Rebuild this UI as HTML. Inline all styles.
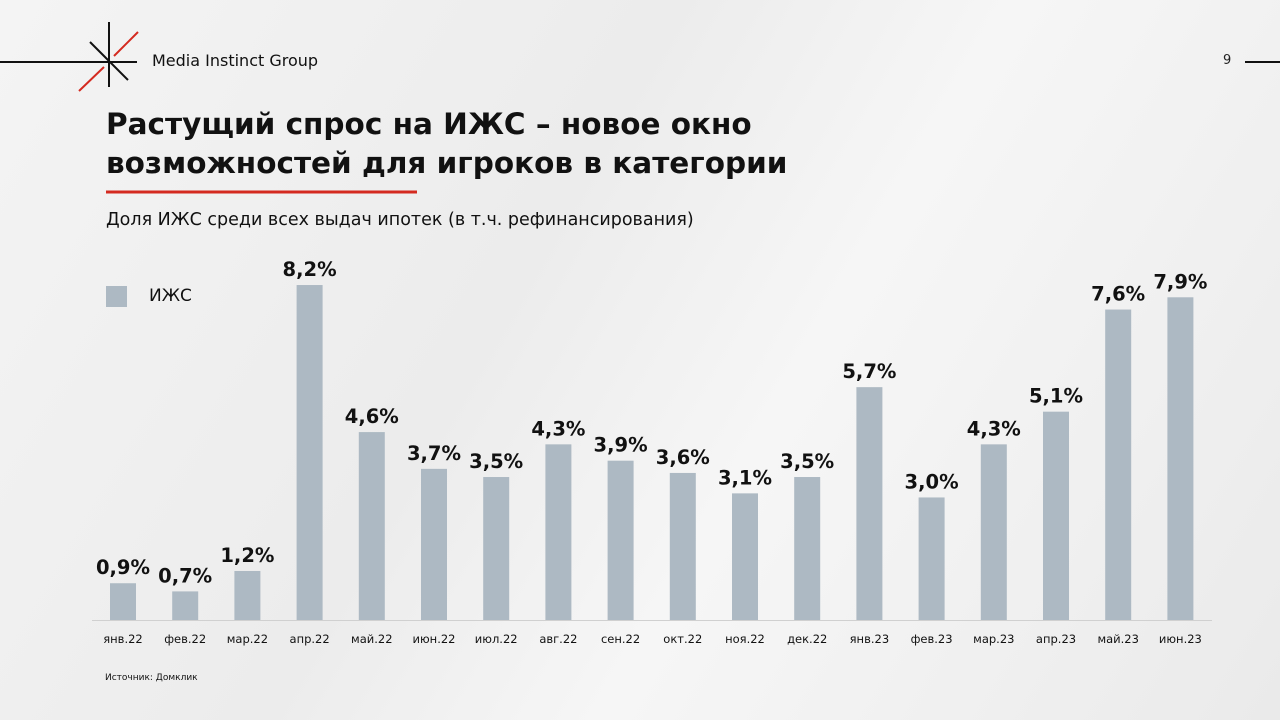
<!DOCTYPE html>
<html><head><meta charset="utf-8"><style>
body{margin:0;width:1280px;height:720px;overflow:hidden;background:linear-gradient(120deg,#f4f4f4,#ececec 40%,#f6f6f6 60%,#eaeaea);font-family:"DejaVu Sans","Liberation Sans",sans-serif;position:relative}
.abs{position:absolute}
</style></head><body>
<svg class="abs" style="left:0;top:0" width="1280" height="720">
<line x1="0" y1="62" x2="137" y2="62" stroke="#111" stroke-width="2"/>
<line x1="109" y1="22" x2="109" y2="87" stroke="#111" stroke-width="2"/>
<line x1="90" y1="42" x2="128" y2="80" stroke="#111" stroke-width="2"/>
<line x1="138" y1="32" x2="114" y2="56" stroke="#d42a20" stroke-width="2"/>
<line x1="104" y1="67" x2="79" y2="91" stroke="#d42a20" stroke-width="2"/>
<line x1="1245" y1="62" x2="1280" y2="62" stroke="#111" stroke-width="2"/>
<line x1="106" y1="192" x2="417" y2="192" stroke="#d42a20" stroke-width="3"/>
</svg>
<div class="abs" style="left:152px;top:51px;font-size:16px;color:#111">Media Instinct Group</div>
<div class="abs" style="left:1223px;top:53px;font-size:13px;color:#222">9</div>
<div class="abs" style="left:106px;top:105px;font-size:29.5px;font-weight:bold;line-height:39px;color:#111">Растущий спрос на ИЖС – новое окно<br>возможностей для игроков в категории</div>
<div class="abs" style="left:106px;top:210px;font-size:17.5px;color:#111">Доля ИЖС среди всех выдач ипотек (в т.ч. рефинансирования)</div>
<div class="abs" style="left:106px;top:286px;width:21px;height:21px;background:#adb9c3"></div>
<div class="abs" style="left:149px;top:286px;font-size:17px;color:#111">ИЖС</div>
<div class="abs" style="left:105px;top:673px;font-size:9px;color:#111">Источник: Домклик</div>
<svg id="chart" class="abs" style="left:0;top:0" width="1280" height="720"></svg>
<script>
const categories=["янв.22","фев.22","мар.22","апр.22","май.22","июн.22","июл.22","авг.22","сен.22","окт.22","ноя.22","дек.22","янв.23","фев.23","мар.23","апр.23","май.23","июн.23"];
const values=[0.9,0.7,1.2,8.2,4.6,3.7,3.5,4.3,3.9,3.6,3.1,3.5,5.7,3.0,4.3,5.1,7.6,7.9];
const valueLabels=["0,9%","0,7%","1,2%","8,2%","4,6%","3,7%","3,5%","4,3%","3,9%","3,6%","3,1%","3,5%","5,7%","3,0%","4,3%","5,1%","7,6%","7,9%"];
const svg=document.getElementById('chart');const NS='http://www.w3.org/2000/svg';
const base=620,unit=40.85,x0=123,step=62.2,bw=26;
const x=i=>x0+i*step, y=v=>base-v*unit;
function mk(t,a){const e=document.createElementNS(NS,t);for(const k in a)e.setAttribute(k,a[k]);svg.appendChild(e);return e;}
const ax=mk('line',{x1:92,x2:1212,y1:base+0.5,y2:base+0.5,stroke:'#d0d0d0','stroke-width':1});


values.forEach((v,i)=>{
 const r=mk('rect',{x:x(i)-bw/2,y:y(v),width:bw,height:base-y(v),fill:'#adb9c3'});
 
 
 const t=mk('text',{x:x(i),y:y(v)-9,'text-anchor':'middle','font-size':19.5,'font-weight':'bold',fill:'#111'});
 t.textContent=valueLabels[i];
 
 
 const c=mk('text',{x:x(i),y:643,'text-anchor':'middle','font-size':11.5,fill:'#111'});
 c.textContent=categories[i];
 
 
});
</script>
</body></html>
